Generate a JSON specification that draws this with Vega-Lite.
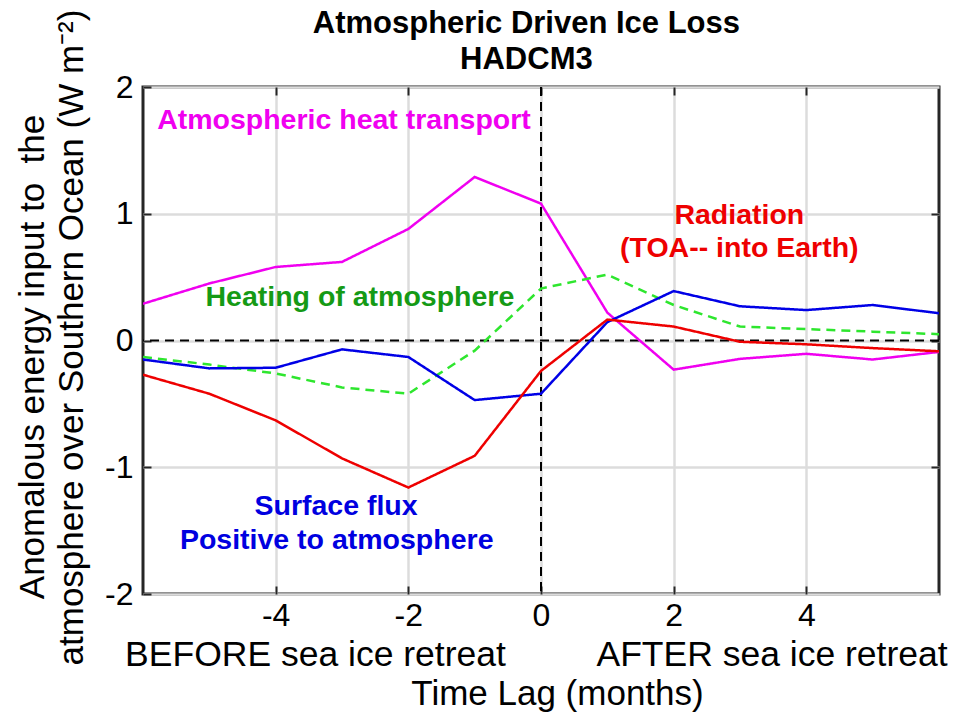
{
  "$schema": "https://vega.github.io/schema/vega-lite/v6.json",
  "width": 796,
  "height": 507,
  "autosize": {"type": "none"},
  "padding": {"left": 143, "top": 87, "right": 33, "bottom": 118},
  "background": "white",
  "config": {
    "font": "Liberation Sans, Arial, sans-serif",
    "view": {"stroke": "#262626", "strokeWidth": 3},
    "axis": {
      "grid": true,
      "gridColor": "#dcdcdc",
      "gridWidth": 2.5,
      "domain": false,
      "ticks": true,
      "tickSize": -8,
      "tickWidth": 2,
      "tickColor": "#262626",
      "labelFont": "Liberation Sans, Arial, sans-serif",
      "labelFontSize": 32,
      "labelColor": "#000000",
      "labelExpr": "'' + datum.value",
      "titleFont": "Liberation Sans, Arial, sans-serif",
      "titleFontSize": 35,
      "titleFontWeight": "normal",
      "titleColor": "#000000"
    }
  },
  "resolve": {"axis": {"x": "independent", "y": "independent"}},
  "datasets": {
    "energy": [
      {"lag": -6, "series": "Atmospheric heat transport", "value": 0.29},
      {"lag": -5, "series": "Atmospheric heat transport", "value": 0.45},
      {"lag": -4, "series": "Atmospheric heat transport", "value": 0.58},
      {"lag": -3, "series": "Atmospheric heat transport", "value": 0.62},
      {"lag": -2, "series": "Atmospheric heat transport", "value": 0.88},
      {"lag": -1, "series": "Atmospheric heat transport", "value": 1.29},
      {"lag": 0, "series": "Atmospheric heat transport", "value": 1.08},
      {"lag": 1, "series": "Atmospheric heat transport", "value": 0.22},
      {"lag": 2, "series": "Atmospheric heat transport", "value": -0.23},
      {"lag": 3, "series": "Atmospheric heat transport", "value": -0.145},
      {"lag": 4, "series": "Atmospheric heat transport", "value": -0.105},
      {"lag": 5, "series": "Atmospheric heat transport", "value": -0.15},
      {"lag": 6, "series": "Atmospheric heat transport", "value": -0.09},
      {"lag": -6, "series": "Heating of atmosphere", "value": -0.13},
      {"lag": -5, "series": "Heating of atmosphere", "value": -0.19},
      {"lag": -4, "series": "Heating of atmosphere", "value": -0.26},
      {"lag": -3, "series": "Heating of atmosphere", "value": -0.37},
      {"lag": -2, "series": "Heating of atmosphere", "value": -0.42},
      {"lag": -1, "series": "Heating of atmosphere", "value": -0.08},
      {"lag": 0, "series": "Heating of atmosphere", "value": 0.41},
      {"lag": 1, "series": "Heating of atmosphere", "value": 0.52},
      {"lag": 2, "series": "Heating of atmosphere", "value": 0.28},
      {"lag": 3, "series": "Heating of atmosphere", "value": 0.11},
      {"lag": 4, "series": "Heating of atmosphere", "value": 0.09},
      {"lag": 5, "series": "Heating of atmosphere", "value": 0.07},
      {"lag": 6, "series": "Heating of atmosphere", "value": 0.05},
      {"lag": -6, "series": "Surface flux", "value": -0.15},
      {"lag": -5, "series": "Surface flux", "value": -0.22},
      {"lag": -4, "series": "Surface flux", "value": -0.215},
      {"lag": -3, "series": "Surface flux", "value": -0.07},
      {"lag": -2, "series": "Surface flux", "value": -0.13},
      {"lag": -1, "series": "Surface flux", "value": -0.47},
      {"lag": 0, "series": "Surface flux", "value": -0.42},
      {"lag": 1, "series": "Surface flux", "value": 0.145},
      {"lag": 2, "series": "Surface flux", "value": 0.39},
      {"lag": 3, "series": "Surface flux", "value": 0.27},
      {"lag": 4, "series": "Surface flux", "value": 0.24},
      {"lag": 5, "series": "Surface flux", "value": 0.28},
      {"lag": 6, "series": "Surface flux", "value": 0.215},
      {"lag": -6, "series": "Radiation", "value": -0.27},
      {"lag": -5, "series": "Radiation", "value": -0.42},
      {"lag": -4, "series": "Radiation", "value": -0.63},
      {"lag": -3, "series": "Radiation", "value": -0.93},
      {"lag": -2, "series": "Radiation", "value": -1.16},
      {"lag": -1, "series": "Radiation", "value": -0.91},
      {"lag": 0, "series": "Radiation", "value": -0.24},
      {"lag": 1, "series": "Radiation", "value": 0.165},
      {"lag": 2, "series": "Radiation", "value": 0.11},
      {"lag": 3, "series": "Radiation", "value": -0.01},
      {"lag": 4, "series": "Radiation", "value": -0.03},
      {"lag": 5, "series": "Radiation", "value": -0.06},
      {"lag": 6, "series": "Radiation", "value": -0.085}
    ]
  },
  "layer": [
    {
      "data": {"values": [{}]},
      "mark": {"type": "rule", "color": "#000000", "strokeWidth": 2, "strokeDash": [9, 6]},
      "encoding": {
        "y": {
          "datum": 0,
          "type": "quantitative",
          "scale": {"domain": [-2, 2], "nice": false},
          "axis": {
            "orient": "left",
            "values": [-2, -1, 0, 1, 2],
            "labelPadding": 18,
            "title": "atmosphere over Southern Ocean (W m⁻²)",
            "titleAngle": -90,
            "titleBaseline": "top",
            "titleAlign": "center",
            "titleX": -89,
            "titleY": 250
          }
        }
      }
    },
    {
      "data": {"values": [{}]},
      "mark": {"type": "rule", "color": "#000000", "strokeWidth": 2, "strokeDash": [9, 6]},
      "encoding": {
        "x": {
          "datum": 0,
          "type": "quantitative",
          "scale": {"domain": [-6, 6], "nice": false},
          "axis": {
            "orient": "bottom",
            "values": [-4, -2, 0, 2, 4],
            "labelPadding": 14,
            "title": "Time Lag (months)",
            "titleX": 414,
            "titleY": 110,
            "titleBaseline": "alphabetic",
            "titleAlign": "center"
          }
        }
      }
    },
    {
      "data": {"name": "energy"},
      "mark": {"type": "line", "strokeWidth": 2.5, "clip": true},
      "encoding": {
        "x": {"field": "lag", "type": "quantitative", "axis": null},
        "y": {"field": "value", "type": "quantitative", "axis": null},
        "color": {
          "field": "series",
          "type": "nominal",
          "scale": {
            "domain": ["Atmospheric heat transport", "Heating of atmosphere", "Surface flux", "Radiation"],
            "range": ["#f000f0", "#2ee62e", "#0000e6", "#ee0000"]
          },
          "legend": null
        },
        "strokeDash": {
          "field": "series",
          "type": "nominal",
          "scale": {
            "domain": ["Atmospheric heat transport", "Heating of atmosphere", "Surface flux", "Radiation"],
            "range": [[1, 0], [9, 6], [1, 0], [1, 0]]
          },
          "legend": null
        }
      }
    },
    {
      "data": {"values": [{}]},
      "mark": {"type": "text", "text": "Anomalous energy input to\u00a0 the", "color": "#000000", "fontSize": 35, "angle": 270, "align": "center", "baseline": "top", "clip": false},
      "encoding": {"x": {"datum": -7.915, "type": "quantitative", "axis": null}, "y": {"datum": -0.13, "type": "quantitative", "axis": null}}
    },
    {
      "data": {"values": [{}]},
      "mark": {"type": "text", "text": "Atmospheric heat transport", "color": "#f000f0", "fontSize": 28.5, "fontWeight": "bold", "align": "center", "baseline": "middle"},
      "encoding": {
        "x": {"datum": -2.97, "type": "quantitative", "axis": {"orient": "top", "values": [-4, -2, 0, 2, 4], "grid": false, "labels": false, "title": null}},
        "y": {"datum": 1.743, "type": "quantitative", "axis": null}
      }
    },
    {
      "data": {"values": [{}]},
      "mark": {"type": "text", "text": "Heating of atmosphere", "color": "#159a15", "fontSize": 28.5, "fontWeight": "bold", "align": "center", "baseline": "middle"},
      "encoding": {"x": {"datum": -2.73, "type": "quantitative", "axis": null}, "y": {"datum": 0.34, "type": "quantitative", "axis": null}}
    },
    {
      "data": {"values": [{}]},
      "mark": {"type": "text", "text": "Radiation", "color": "#ee0000", "fontSize": 28.5, "fontWeight": "bold", "align": "center", "baseline": "middle"},
      "encoding": {
        "x": {"datum": 2.99, "type": "quantitative", "axis": null},
        "y": {"datum": 0.993, "type": "quantitative", "axis": {"orient": "right", "values": [-1, 0, 1], "grid": false, "labels": false, "title": null}}
      }
    },
    {
      "data": {"values": [{}]},
      "mark": {"type": "text", "text": "(TOA-- into Earth)", "color": "#ee0000", "fontSize": 28.5, "fontWeight": "bold", "align": "center", "baseline": "middle"},
      "encoding": {"x": {"datum": 2.99, "type": "quantitative", "axis": null}, "y": {"datum": 0.727, "type": "quantitative", "axis": null}}
    },
    {
      "data": {"values": [{}]},
      "mark": {"type": "text", "text": "Surface flux", "color": "#0000e0", "fontSize": 28.5, "fontWeight": "bold", "align": "center", "baseline": "middle"},
      "encoding": {"x": {"datum": -3.09, "type": "quantitative", "axis": null}, "y": {"datum": -1.302, "type": "quantitative", "axis": null}}
    },
    {
      "data": {"values": [{}]},
      "mark": {"type": "text", "text": "Positive to atmosphere", "color": "#0000e0", "fontSize": 28.5, "fontWeight": "bold", "align": "center", "baseline": "middle"},
      "encoding": {"x": {"datum": -3.08, "type": "quantitative", "axis": null}, "y": {"datum": -1.574, "type": "quantitative", "axis": null}}
    },
    {
      "data": {"values": [{}]},
      "mark": {"type": "text", "text": "BEFORE sea ice retreat", "color": "#000000", "fontSize": 35.5, "align": "left", "baseline": "alphabetic", "clip": false},
      "encoding": {"x": {"datum": -6.27, "type": "quantitative", "axis": null}, "y": {"datum": -2.568, "type": "quantitative", "axis": null}}
    },
    {
      "data": {"values": [{}]},
      "mark": {"type": "text", "text": "AFTER sea ice retreat", "color": "#000000", "fontSize": 35.5, "align": "right", "baseline": "alphabetic", "clip": false},
      "encoding": {"x": {"datum": 6.13, "type": "quantitative", "axis": null}, "y": {"datum": -2.568, "type": "quantitative", "axis": null}}
    },
    {
      "data": {"values": [{}]},
      "mark": {"type": "text", "text": "Atmospheric Driven Ice Loss", "color": "#000000", "fontSize": 31, "fontWeight": "bold", "align": "center", "baseline": "middle", "clip": false},
      "encoding": {"x": {"datum": -0.22, "type": "quantitative", "axis": null}, "y": {"datum": 2.497, "type": "quantitative", "axis": null}}
    },
    {
      "data": {"values": [{}]},
      "mark": {"type": "text", "text": "HADCM3", "color": "#000000", "fontSize": 31, "fontWeight": "bold", "align": "center", "baseline": "middle", "clip": false},
      "encoding": {"x": {"datum": -0.22, "type": "quantitative", "axis": null}, "y": {"datum": 2.216, "type": "quantitative", "axis": null}}
    }
  ]
}
